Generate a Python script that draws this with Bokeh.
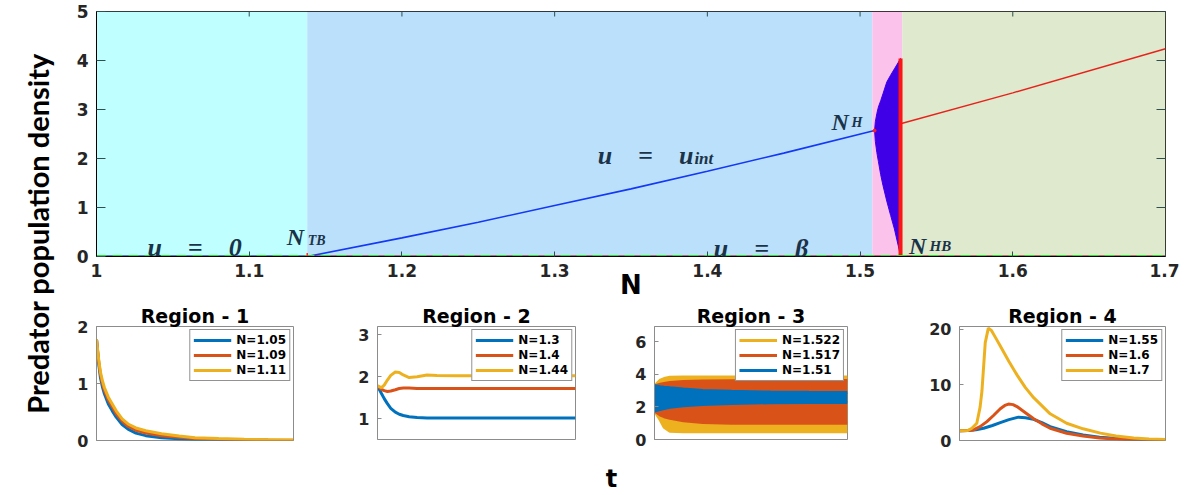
from math import pi
from bokeh.plotting import figure
from bokeh.models import Range1d, FixedTicker, Label, Spacer
from bokeh.layouts import row, column
from bokeh.embed import file_html
from bokeh.resources import INLINE

# ---------------- data (main bifurcation diagram) ----------------
region_left = [1.0, 1.138, 1.508, 1.5276]
region_right = [1.138, 1.508, 1.5276, 1.7]
region_colors = ["#C0FFFF", "#BBE0FB", "#FBC3EC", "#DEE9CE"]

trivial_stable_N = [1.0, 1.138]
trivial_unstable_N = [1.138, 1.7]
trivial_u = [0.0, 0.0]
beta_N = [1.0, 1.7]
beta_u = [0.0, 0.0]

uint_N = [1.138, 1.2, 1.25, 1.3, 1.35, 1.4, 1.45, 1.5095]
uint_u = [0.0, 0.38, 0.70, 1.04, 1.38, 1.74, 2.11, 2.57]

upper_N = [1.5265, 1.6, 1.7]
upper_u = [2.71, 3.34, 4.24]

cycle_N = [1.5095, 1.5100, 1.5110, 1.5120, 1.5135, 1.5150, 1.5175, 1.5200, 1.5225, 1.5250, 1.5265]
cycle_max = [2.57, 2.75, 2.92, 3.05, 3.18, 3.32, 3.56, 3.70, 3.83, 3.96, 4.04]
cycle_min = [2.57, 2.35, 2.12, 1.94, 1.67, 1.45, 1.13, 0.84, 0.56, 0.22, 0.0]

N_TB = 1.138
N_H, u_H = 1.5095, 2.57
N_HB, N_HB_top = 1.5265, 4.04

main_xticks = [1.0, 1.1, 1.2, 1.3, 1.4, 1.5, 1.6, 1.7]
main_xtick_labels = ["1", "1.1", "1.2", "1.3", "1.4", "1.5", "1.6", "1.7"]
main_yticks = [0, 1, 2, 3, 4, 5]

# ---------------- data (time series) ----------------
r1_t = [0, 1, 2, 3, 4, 6, 8, 10, 13, 16, 20, 25, 33, 42, 50, 62, 75, 87, 100]
r1_105 = [1.78, 1.38, 1.10, 0.94, 0.82, 0.64, 0.52, 0.41, 0.28, 0.20, 0.13, 0.085, 0.05, 0.03, 0.018, 0.009, 0.005, 0.003, 0.002]
r1_109 = [1.78, 1.42, 1.16, 1.00, 0.88, 0.71, 0.59, 0.47, 0.34, 0.25, 0.18, 0.13, 0.085, 0.055, 0.035, 0.02, 0.012, 0.008, 0.005]
r1_111 = [1.78, 1.45, 1.20, 1.05, 0.93, 0.76, 0.64, 0.52, 0.38, 0.29, 0.22, 0.17, 0.12, 0.08, 0.05, 0.035, 0.02, 0.015, 0.01]

r2_t = [0, 2, 3.4, 5, 6.7, 9, 11, 13, 16, 20, 25, 30, 40, 60, 80, 100]
r2_130 = [1.78, 1.60, 1.48, 1.36, 1.25, 1.16, 1.11, 1.08, 1.05, 1.03, 1.02, 1.02, 1.02, 1.02, 1.02, 1.02]
r2_140 = [1.78, 1.70, 1.67, 1.65, 1.66, 1.69, 1.72, 1.73, 1.73, 1.72, 1.72, 1.72, 1.72, 1.72, 1.72, 1.72]
r2_144 = [1.78, 1.74, 1.80, 1.92, 2.03, 2.11, 2.10, 2.04, 1.98, 2.00, 2.04, 2.03, 2.02, 2.02, 2.02, 2.02]

r3_t = [0, 3, 5, 8, 15, 25, 40, 60, 80, 100]
r3_1522_hi = [3.30, 3.65, 3.75, 3.83, 3.85, 3.85, 3.85, 3.85, 3.85, 3.85]
r3_1522_lo = [1.75, 1.20, 0.75, 0.50, 0.48, 0.48, 0.48, 0.48, 0.48, 0.48]
r3_1517_hi = [3.30, 3.40, 3.45, 3.50, 3.57, 3.60, 3.62, 3.63, 3.63, 3.63]
r3_1517_lo = [1.75, 1.50, 1.40, 1.30, 1.15, 1.05, 1.00, 1.00, 1.00, 1.00]
r3_151_hi = [3.30, 3.25, 3.22, 3.18, 3.10, 3.02, 2.96, 2.92, 2.90, 2.89]
r3_151_lo = [1.75, 1.85, 1.90, 1.98, 2.08, 2.16, 2.22, 2.26, 2.27, 2.28]

r4_t_170 = [0, 4, 6, 8.4, 10, 10.9, 12.5, 14, 15.5, 17.5, 19.8, 24, 27.9, 32, 36, 44, 52, 60, 68.4, 76, 84.6, 92, 100]
r4_170 = [1.75, 1.8, 2.2, 3.1, 6.0, 8.9, 17.6, 20.2, 19.8, 18.5, 17.0, 14.2, 11.8, 9.5, 7.7, 4.8, 3.1, 2.1, 1.33, 0.8, 0.46, 0.28, 0.17]
r4_t_160 = [0, 4, 6.8, 10, 13.3, 16.5, 19.8, 22, 23.8, 26, 27.9, 32, 36, 40, 44, 52, 60, 68, 80, 90, 100]
r4_160 = [1.75, 1.78, 1.9, 2.5, 3.4, 4.5, 5.7, 6.3, 6.55, 6.45, 6.1, 5.0, 3.9, 3.0, 2.2, 1.3, 0.8, 0.45, 0.2, 0.12, 0.08]
r4_t_155 = [0, 4, 8, 11.7, 16, 19.8, 24, 28.7, 32, 36, 40, 44, 52, 60, 68, 80, 90, 100]
r4_155 = [1.75, 1.78, 1.95, 2.2, 2.7, 3.2, 3.75, 4.2, 4.1, 3.8, 3.2, 2.5, 1.6, 1.0, 0.6, 0.25, 0.12, 0.08]

BLUE, ORANGE, YELLOW = "#0072BD", "#D95319", "#EDB120"
TXT = "#1A3349"
TICKFONT = "DejaVu Sans"

# ---------------- main figure ----------------
p = figure(frame_width=1069, frame_height=245, x_range=Range1d(1.0, 1.7), y_range=Range1d(0, 5),
           output_backend="svg", toolbar_location=None,
           min_border_left=38, min_border_right=14, min_border_top=11, min_border_bottom=10)
p.xgrid.visible = False
p.ygrid.visible = False
p.outline_line_color = "#000000"
p.outline_line_alpha = 1
p.background_fill_color = "white"

p.xaxis.ticker = FixedTicker(ticks=main_xticks)
p.xaxis.major_label_overrides = dict(zip(main_xticks, main_xtick_labels))
p.yaxis.ticker = FixedTicker(ticks=main_yticks)
for ax in (p.xaxis[0], p.yaxis[0]):
    ax.major_label_text_font = TICKFONT
    ax.major_label_text_font_style = "bold"
    ax.major_label_text_font_size = "17px"
    ax.major_label_text_color = "#262626"
    ax.major_tick_out = 0
    ax.minor_tick_line_color = None
    ax.major_label_standoff = 8
    ax.axis_line_color = "#000000"
    ax.major_tick_line_color = "#2F4F4F"
p.xaxis.major_tick_in = 5
p.yaxis.major_tick_in = 9
p.xaxis.major_label_standoff = 7
p.xaxis.axis_label = "N"
p.xaxis.axis_label_text_font = "DejaVu Sans"
p.xaxis.axis_label_text_font_style = "bold"
p.xaxis.axis_label_text_font_size = "26px"
p.xaxis.axis_label_text_color = "#000000"
p.xaxis.axis_label_standoff = -10

p.quad(left=region_left, right=region_right, bottom=0, top=5, fill_color=region_colors, line_color=None)

p.patch(x=cycle_N + cycle_N[::-1], y=cycle_max + cycle_min[::-1], fill_color="#3F00E8", line_color="#3F00E8", line_width=1)
p.line(uint_N, uint_u, line_color="#1438F5", line_width=1.6)
p.line(upper_N, upper_u, line_color="#E8221B", line_width=1.4)
p.segment(x0=[N_HB], y0=[0], x1=[N_HB], y1=[N_HB_top], line_color="#FF1414", line_width=4)

p.line(trivial_stable_N, trivial_u, line_color="#000080", line_width=2)
p.line(trivial_unstable_N, trivial_u, line_color="#8B0000", line_width=2)
p.line(beta_N, beta_u, line_color="#33DD33", line_width=3, line_dash="10 6")

p.scatter([N_TB], [0], marker="cross", size=7, line_color="#FF3030", line_width=1.5)
p.scatter([N_H], [u_H], marker="circle", size=3, fill_color="#FF2020", line_color="#FF2020")

# mirrored tick marks on the top and right edges (box on)
p.scatter(x=main_xticks, y=[5] * len(main_xticks), marker="dash", angle=pi / 2, size=10,
          line_color="#2F4F4F", line_width=1)
p.scatter(x=[1.7] * len(main_yticks), y=main_yticks, marker="dash", size=18,
          line_color="#2F4F4F", line_width=1)


def lab(fig, text, x, y, size, align="left", style="bold italic", font="Liberation Serif",
        color=TXT, baseline="alphabetic", angle=0):
    fig.add_layout(Label(x=x, y=y, text=text, text_font=font, text_font_style=style,
                         text_font_size=size, text_color=color, text_align=align,
                         text_baseline=baseline, angle=angle))


lab(p, "u\u2003=\u20030", 1.0642, 0.18, "26px", align="center")
lab(p, "u\u2003=\u2003u", 1.3595, 2.06, "26px", align="center")
lab(p, "int", 1.3915, 2.0, "17px")
lab(p, "u\u2003=\u2003\u03b2", 1.4352, 0.163, "26px", align="center")
lab(p, "N", 1.4869, 2.755, "24px", align="center")
lab(p, "H", 1.4944, 2.735, "14px")
lab(p, "N", 1.1303, 0.408, "24px", align="center")
lab(p, "TB", 1.1383, 0.327, "14px")
lab(p, "N", 1.5377, 0.224, "24px", align="center")
lab(p, "HB", 1.5455, 0.224, "15px")


# ---------------- sub figures ----------------
def make_sub(title, yr, yticks, bl, br, fw, fh):
    s = figure(frame_width=fw, frame_height=fh, x_range=Range1d(0, 100), y_range=Range1d(*yr),
               output_backend="svg", toolbar_location=None, title=title,
               min_border_left=bl, min_border_right=br, min_border_top=18, min_border_bottom=22)
    s.title.text_font = "DejaVu Sans"
    s.title.text_font_style = "bold"
    s.title.text_font_size = "19px"
    s.title.align = "center"
    s.title.text_color = "#000000"
    s.title.standoff = 0
    s.xaxis.visible = False
    s.xgrid.visible = False
    s.ygrid.visible = False
    s.outline_line_color = "#8C8C8C"
    s.outline_line_alpha = 1
    ax = s.yaxis[0]
    ax.ticker = FixedTicker(ticks=yticks)
    ax.major_label_text_font = TICKFONT
    ax.major_label_text_font_style = "bold"
    ax.major_label_text_font_size = "16px"
    ax.major_label_text_color = "#262626"
    ax.major_tick_out = 0
    ax.major_tick_in = 4
    ax.minor_tick_line_color = None
    ax.major_label_standoff = 8
    ax.axis_line_color = "#8C8C8C"
    ax.major_tick_line_color = "#8C8C8C"
    return s


def style_legend(s):
    lg = s.legend[0]
    lg.location = "top_right"
    lg.margin = 3
    lg.padding = 3
    lg.spacing = 1
    lg.glyph_width = 38
    lg.glyph_height = 12
    lg.label_height = 12
    lg.label_standoff = 5
    lg.label_text_font = "DejaVu Sans"
    lg.label_text_font_style = "bold"
    lg.label_text_font_size = "12px"
    lg.label_text_color = "#000000"
    lg.border_line_color = "#262626"
    lg.border_line_width = 1
    lg.background_fill_alpha = 1


s1 = make_sub("Region - 1", (0, 2), [0, 1, 2], 38, 54, 197, 114)
s1.line(r1_t, r1_105, line_color=BLUE, line_width=3, legend_label="N=1.05")
s1.line(r1_t, r1_109, line_color=ORANGE, line_width=3, legend_label="N=1.09")
s1.line(r1_t, r1_111, line_color=YELLOW, line_width=3, legend_label="N=1.11")
style_legend(s1)

s2 = make_sub("Region - 2", (0.51, 3.19), [1, 2, 3], 30, 49, 198, 113)
s2.line(r2_t, r2_130, line_color=BLUE, line_width=3, legend_label="N=1.3")
s2.line(r2_t, r2_140, line_color=ORANGE, line_width=3, legend_label="N=1.4")
s2.line(r2_t, r2_144, line_color=YELLOW, line_width=3, legend_label="N=1.44")
style_legend(s2)

s3 = make_sub("Region - 3", (0, 6.95), [0, 2, 4, 6], 30, 72, 193, 113)
for hi, lo, col, name in ((r3_1522_hi, r3_1522_lo, YELLOW, "N=1.522"),
                          (r3_1517_hi, r3_1517_lo, ORANGE, "N=1.517"),
                          (r3_151_hi, r3_151_lo, BLUE, "N=1.51")):
    s3.varea(x=r3_t, y1=lo, y2=hi, fill_color=col)
    s3.line(r3_t, hi, line_color=col, line_width=3, legend_label=name)
    s3.line(r3_t, lo, line_color=col, line_width=3)
style_legend(s3)

s4 = make_sub("Region - 4", (0, 20.5), [0, 10, 20], 40, 14, 206, 114)
s4.line(r4_t_155, r4_155, line_color=BLUE, line_width=3, legend_label="N=1.55")
s4.line(r4_t_160, r4_160, line_color=ORANGE, line_width=3, legend_label="N=1.6")
s4.line(r4_t_170, r4_170, line_color=YELLOW, line_width=3, legend_label="N=1.7")
style_legend(s4)

# ---------------- shared "t" label ----------------
tfig = figure(frame_width=40, frame_height=1, x_range=Range1d(0, 1), y_range=Range1d(0, 1),
              output_backend="svg", toolbar_location=None, title="t",
              min_border_left=0, min_border_right=0, min_border_top=0, min_border_bottom=0,
              x_axis_location=None, y_axis_location=None)
tfig.grid.visible = False
tfig.outline_line_color = None
tfig.title.text_font = "DejaVu Sans"
tfig.title.text_font_style = "bold"
tfig.title.text_font_size = "24px"
tfig.title.align = "center"
tfig.title.standoff = 0
tfig.title.text_color = "#000000"
tstrip = row(Spacer(width=533, height=30), tfig)

# ---------------- shared y label ----------------
labelfig = figure(width=58, height=480, x_range=Range1d(0, 58), y_range=Range1d(0, 480),
                  output_backend="svg", toolbar_location=None, min_border=0,
                  x_axis_location=None, y_axis_location=None)
labelfig.grid.visible = False
labelfig.outline_line_color = None
lab(labelfig, "Predator population density", 37, 247, "29px", align="center", style="bold",
    font="Lato", color="#000000", angle=pi / 2)

layout = row(labelfig, column(p, row(s1, s2, s3, s4), tstrip))

open("out.html", "w").write(file_html(layout, INLINE))
